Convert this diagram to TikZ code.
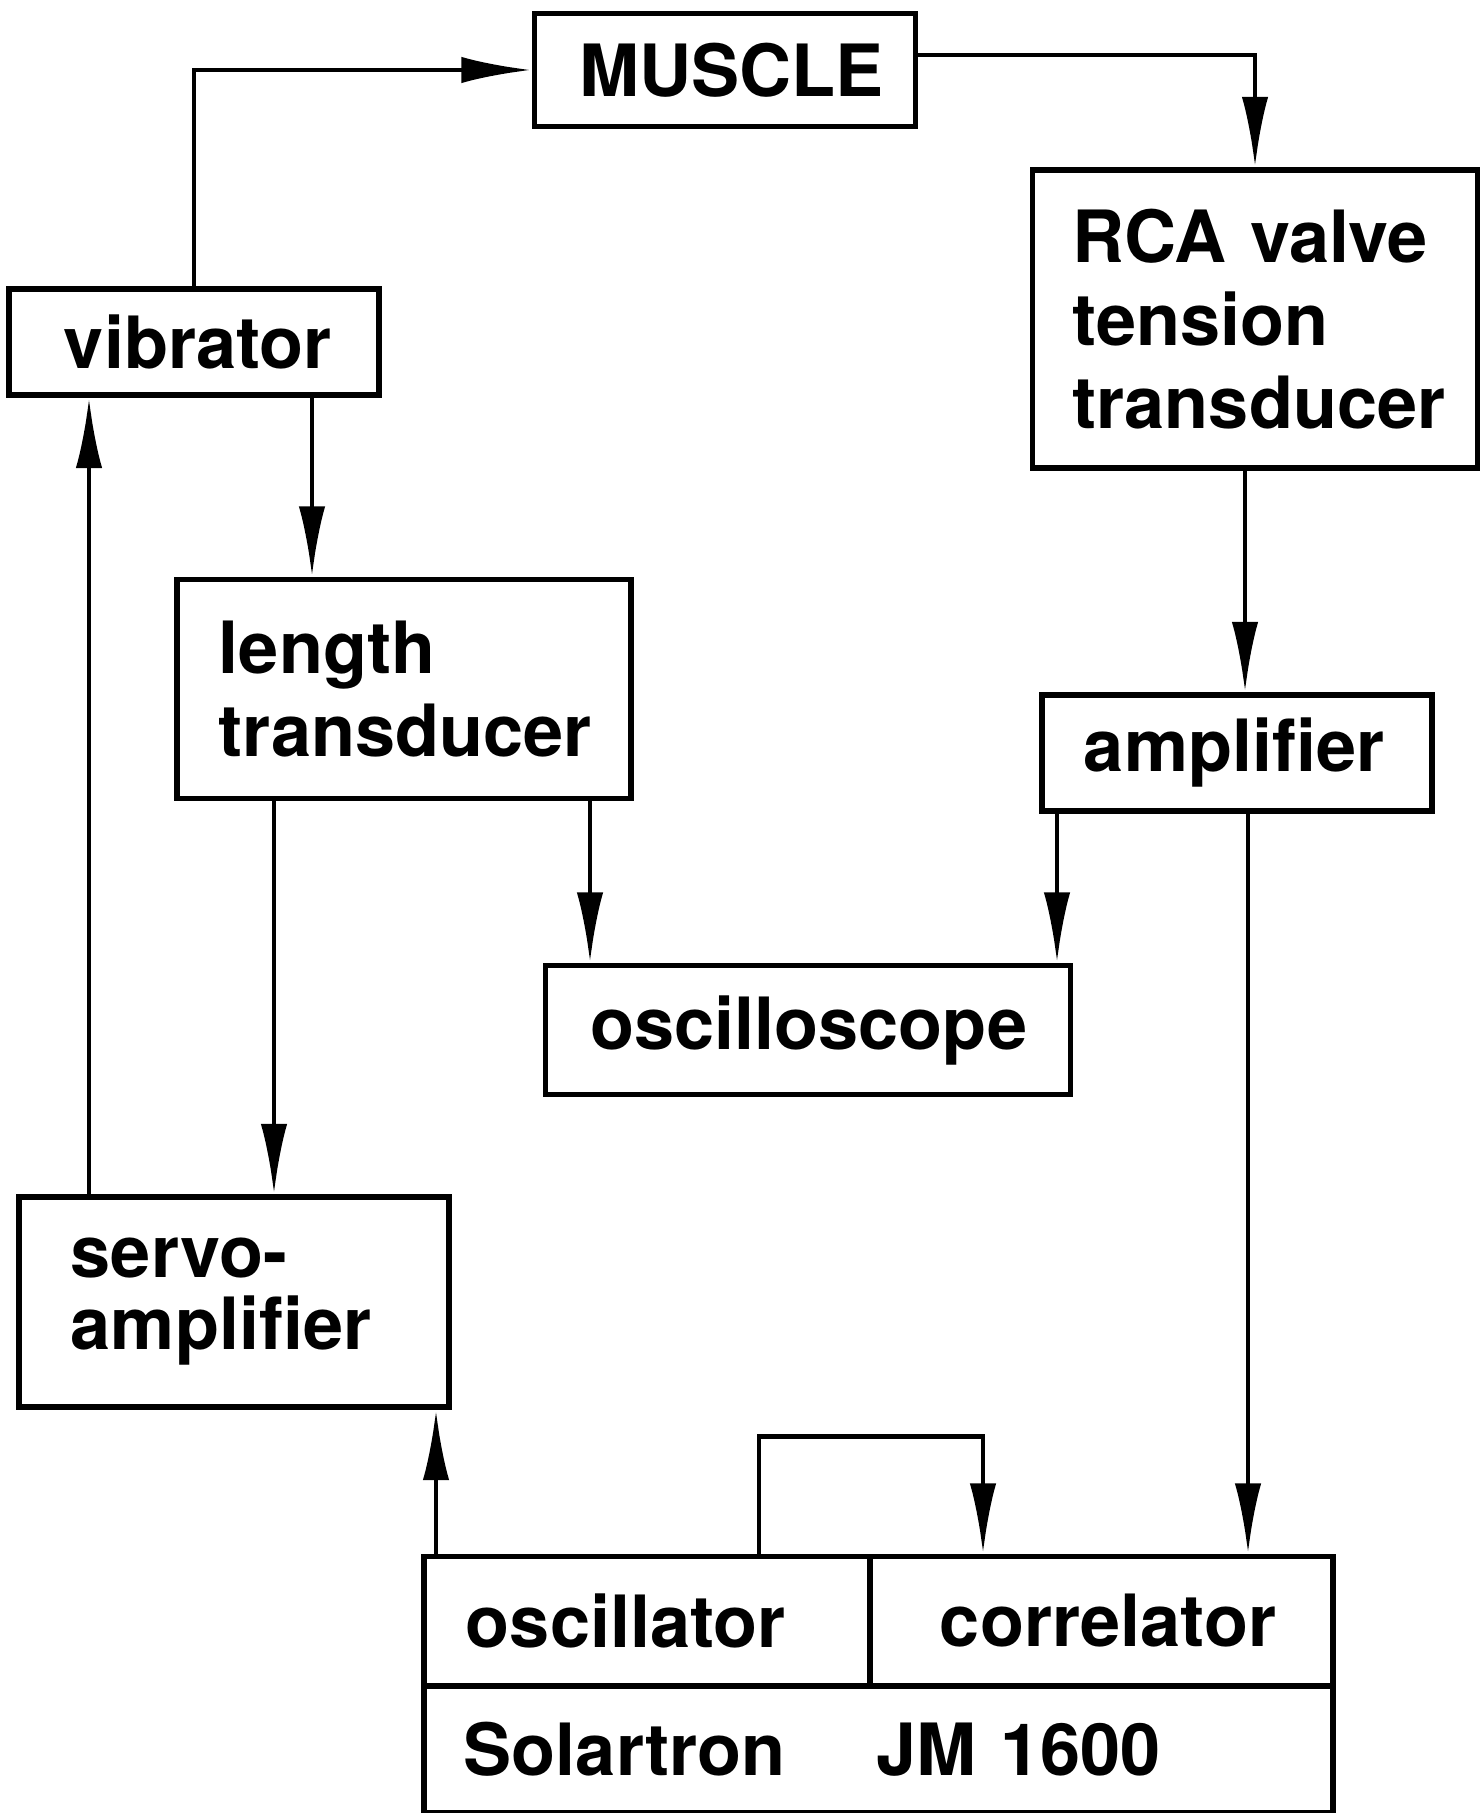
\documentclass[tikz,border=0pt]{standalone}
\usepackage{fontspec}
\setmainfont{TeX Gyre Heros}
\usetikzlibrary{arrows.meta}
\begin{document}
\begin{tikzpicture}[x=0.01cm, y=-0.01cm,
  >={Latex[length=20pt,width=7.5pt]},
  blk/.style={draw, line width=1.6pt, align=left, inner xsep=0.45cm, inner ysep=0pt,
    font=\bfseries\fontsize{20.5}{23.5}\selectfont},
  wire/.style={line width=1.35pt}]
\useasboundingbox (0,0) rectangle (1479,1813);

% Blocks
\node[blk, text width=2.91cm, minimum height=1.13cm] (mus) at (725,70) {MUSCLE};
\node[blk, inner xsep=0.55cm, text width=2.60cm, minimum height=1.06cm] (vib) at (194,342) {vibrator};
\node[blk, inner xsep=0.4cm, text width=3.65cm, minimum height=2.98cm] (rca) at (1255,319) {RCA valve\\tension\\transducer};
\node[blk, inner xsep=0.42cm, text width=3.70cm, minimum height=2.19cm] (len) at (404,689) {length\\transducer};
\node[blk, inner xsep=0.42cm, text width=3.06cm, minimum height=1.16cm] (amp) at (1237,753) {amplifier};
\node[blk, text width=4.35cm, minimum height=1.29cm] (osc) at (808,1030) {oscilloscope};
\node[blk, inner xsep=0.52cm, text width=3.26cm, minimum height=2.10cm] (serv) at (234,1302) {servo-\\[-3pt]amplifier};

% Solartron
\node[blk, inner xsep=0.42cm, text width=3.62cm, minimum height=1.29cm] (oscl) at (647,1621) {oscillator};
\node[blk, inner xsep=0.7cm, text width=3.23cm, minimum height=1.29cm] (corr) at (1101.5,1621) {correlator};
\node[blk, inner xsep=0.4cm, text width=8.29cm, minimum height=1.27cm] (sol) at (878.5,1749.5) {Solartron\hspace{1.26em}JM 1600};

% Connections
\draw[wire, ->] (vib.north) |- (mus.west);
\draw[wire, ->] ([yshift=0.15cm]mus.east) -| (rca.north);
\draw[wire, ->] (vib.south -| 312,0) -- (len.north -| 312,0);
\draw[wire, ->] (serv.north -| 89,0) -- (vib.south -| 89,0);
\draw[wire, ->] (len.south -| 274,0) -- (serv.north -| 274,0);
\draw[wire, ->] (len.south -| 590,0) -- (osc.north -| 590,0);
\draw[wire, ->] (rca.south -| 1245,0) -- (amp.north -| 1245,0);
\draw[wire, ->] (amp.south -| 1057,0) -- (osc.north -| 1057,0);
\draw[wire, ->] (amp.south -| 1248,0) -- (corr.north -| 1248,0);
\draw[wire, ->] (oscl.north -| 436,0) -- (serv.south -| 436,0);
\draw[wire, ->] (oscl.north -| 759,0) -- ++(0,-117) -| (corr.north -| 983,0);
\end{tikzpicture}
\end{document}
